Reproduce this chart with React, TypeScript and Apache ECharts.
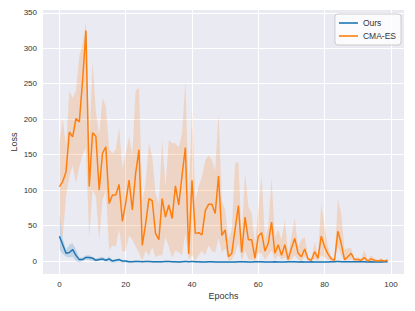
import React, { useEffect, useRef } from "react";
import * as echarts from "echarts";

const epochs = Array.from({ length: 100 }, (_, i) => i);

const oursMean = [
  35, 23, 11, 12, 16, 8, 2, 2, 5, 5, 4, 1, 2, 3, 1, 3, 0, 1, 2, 0,
  0, -1, -1, -0.5, -0.5, -1, -0.5, -0.5, -1, -1, -1, -1, -0.5, -0.5, -1, -1, -1.5, -1, -0.5, -1,
  -0.5, -1, -1, -1.5, -1.5, -1, -1, -1.5, -1.5, -1.5, -1.5, -1.5, -1.5, -1.5, -1, -1, -1, -1.5, -1.5, -1,
  -1, -1, -1.5, -1.5, -1.5, -1, -1.5, -1.5, -1.5, -1, -1, -1, -1.5, -1, -1.5, -1.5, -1, -1.5, -1.5, -1.5,
  -1.5, -1.5, -1, -1, -0.5, -1, -1, -1, -1, -1, -1, -1, -1, -1.5, -1, -1.5, -1.5, -1.5, -1, -1,
];
const oursUpper = [
  65, 32, 16, 23, 25, 16, 5, 5, 8, 8, 6, 4, 5, 6, 3, 6, 2, 2, 4, 1,
  1, 0.5, 0.5, 1, 0.5, 0, 0.5, 0.5, 0, 0, 0, 0, 0.5, 0.5, 0, 0, -0.5, 0, 0.5, 0,
  0.5, 0, 0, -0.5, -0.5, 0, 0, -0.5, -0.5, -0.5, -0.5, -0.5, -0.5, -0.5, 0, 0, 0, -0.5, -0.5, 0,
  0, 0, -0.5, -0.5, -0.5, 0, -0.5, -0.5, -0.5, 0, 0, 0, -0.5, 0, -0.5, -0.5, 0, -0.5, -0.5, -0.5,
  -0.5, -0.5, 0, 0, 0.5, 0, 0, 0, 0, 0, 0, 0, 0, -0.5, 0, -0.5, -0.5, -0.5, 0, 0,
];
const oursLower = [
  16, 10, 6, 5, 6, 0, -2, 0, 2, 1, 0, -0.5, 0, 0, -1, -1, -2, -2, -1, -2,
  -2, -2, -2, -1.5, -1.5, -2, -1.5, -1.5, -2, -2, -2, -2, -1.5, -1.5, -2, -2, -2.5, -2, -1.5, -2,
  -1.5, -2, -2, -2.5, -2.5, -2, -2, -2.5, -2.5, -2.5, -2.5, -2.5, -2.5, -2.5, -2, -2, -2, -2.5, -2.5, -2,
  -2, -2, -2.5, -2.5, -2.5, -2, -2.5, -2.5, -2.5, -2, -2, -2, -2.5, -2, -2.5, -2.5, -2, -2.5, -2.5, -2.5,
  -2.5, -2.5, -2, -2, -1.5, -2, -2, -2, -2, -2, -2, -2, -2, -2.5, -2, -2.5, -2.5, -2.5, -2, -2,
];

const cmaMean = [
  105, 112, 126, 182, 175, 201, 196, 255, 325, 105, 181, 176, 100, 152, 161, 81, 93, 93, 108, 56,
  82, 114, 72, 124, 157, 22, 52, 88, 85, 39, 30, 88, 62, 79, 60, 106, 79, 121, 160, 10,
  114, 39, 40, 37, 71, 80, 80, 67, 120, 36, 44, 6, 11, 45, 78, 12, 62, 30, 30, 4,
  35, 40, 14, 25, 55, 11, 23, 8, 23, 2, 18, 32, 11, 6, 17, 3, 1, 13, 4, 35,
  20, 10, 3, 1, 42, 25, 2, 6, 11, 2, 2, 1, 5, 0, 3, 1, 0, 1, 0, 1,
];
const cmaUpper = [
  168, 201, 160, 240, 230, 240, 289, 305, 338, 160, 281, 210, 178, 230, 218, 158, 152, 157, 188, 132,
  152, 176, 150, 240, 245, 83, 110, 166, 147, 95, 81, 171, 105, 171, 166, 166, 160, 180, 255, 92,
  215, 86, 105, 119, 142, 149, 142, 128, 208, 85, 72, 30, 44, 138, 140, 34, 124, 77, 67, 23,
  72, 121, 30, 48, 117, 34, 44, 30, 58, 11, 34, 60, 20, 30, 34, 6, 3, 27, 8, 81,
  48, 20, 6, 3, 87, 67, 16, 18, 18, 3, 6, 3, 16, 1, 8, 4, 1, 4, 1, 4,
];
const cmaLower = [
  60, 34, 91, 119, 135, 110, 133, 150, 160, 32, 100, 91, 30, 86, 100, 16, 22, 20, 44, 13,
  14, 36, 30, 20, 12, 0, 15, 7, 20, 5, 8, 8, 34, 20, 5, 15, 12, 8, 39, 2,
  8, 0, 8, 14, 8, 22, 14, 12, 32, 12, 18, 0, 2, 11, 25, 0, 15, 2, 2, 0,
  11, 11, 2, 8, 15, 2, 8, 2, 5, 0, 2, 8, 2, 0, 6, 0, 0, 3, 0, 8,
  5, 2, 0, 0, 20, 8, 0, 1, 3, 0, 0, 0, 1, -1, 0, 0, -1, 0, -1, -1,
];

const seriesNames = ["Ours", "CMA-ES"];
const FONT = "'Liberation Sans', Arial, 'DejaVu Sans', sans-serif";
const TEXT = "#333333";

export default function App() {
  const ref = useRef<HTMLDivElement>(null);
  useEffect(() => {
    const chart = echarts.init(ref.current as HTMLDivElement, null, { renderer: "svg" });

    const band = (name: string, lower: number[], upper: number[], color: string) => ({
      type: "custom",
      name,
      silent: true,
      z: 1,
      clip: true,
      data: epochs.map((e, i) => [e, lower[i], upper[i]]),
      encode: { x: 0, y: [1, 2] },
      renderItem: (params: any, api: any) => {
        if (params.dataIndex !== 0) return null;
        const top = epochs.map((e, i) => api.coord([e, upper[i]]));
        const bottom = epochs.map((e, i) => api.coord([e, lower[i]])).reverse();
        return {
          type: "polygon",
          shape: { points: top.concat(bottom) },
          style: { fill: color, stroke: null },
        };
      },
    });

    const line = (name: string, vals: number[], color: string) => ({
      type: "line",
      name,
      z: 3,
      symbol: "none",
      showSymbol: false,
      data: epochs.map((e, i) => [e, vals[i]]),
      lineStyle: { color, width: 1.5 },
      itemStyle: { color },
    });

    chart.setOption({
      animation: false,
      textStyle: { fontFamily: FONT },
      grid: {
        left: 43,
        right: 11,
        top: 10,
        bottom: 37,
        containLabel: false,
        outerBoundsMode: "none",
        show: true,
        backgroundColor: "#EAEAF2",
        borderWidth: 0,
      },
      legend: {
        data: seriesNames,
        orient: "vertical",
        right: 14,
        top: 14,
        icon: "rect",
        itemWidth: 19,
        itemHeight: 1.6,
        itemGap: 3,
        padding: [4, 5, 4, 4],
        backgroundColor: "rgba(255,255,255,0.8)",
        borderColor: "#cccccc",
        borderWidth: 1,
        borderRadius: 3,
        textStyle: { fontSize: 8.5, color: TEXT, fontFamily: FONT, lineHeight: 10 },
      },
      xAxis: {
        type: "value",
        min: -4.95,
        max: 103.95,
        splitNumber: 5,
        name: "Epochs",
        nameLocation: "middle",
        nameGap: 17,
        nameMoveOverlap: false,
        nameTextStyle: { fontSize: 9, color: TEXT, fontFamily: FONT },
        axisLine: { show: false },
        axisTick: { show: false },
        axisLabel: {
          fontSize: 8,
          color: TEXT,
          margin: 6,
          fontFamily: FONT,
          showMinLabel: false,
          showMaxLabel: false,
          formatter: (v: number) => (Math.abs(v % 20) < 1e-6 ? String(Math.round(v)) : ""),
        },
        splitLine: { show: true, showMinLine: false, showMaxLine: false, lineStyle: { color: "#ffffff", width: 1 } },
      },
      yAxis: {
        type: "value",
        min: -18.3,
        max: 354,
        splitNumber: 8,
        name: "Loss",
        nameLocation: "middle",
        nameGap: 25,
        nameMoveOverlap: false,
        nameTextStyle: { fontSize: 9, color: TEXT, fontFamily: FONT },
        axisLine: { show: false },
        axisTick: { show: false },
        axisLabel: {
          fontSize: 8,
          color: TEXT,
          margin: 6,
          fontFamily: FONT,
          showMinLabel: false,
          showMaxLabel: false,
          formatter: (v: number) => (Math.abs(v % 50) < 1e-6 ? String(Math.round(v)) : ""),
        },
        splitLine: { show: true, showMinLine: false, showMaxLine: false, lineStyle: { color: "#ffffff", width: 1 } },
      },
      series: [
        band("Ours band", oursLower, oursUpper, "rgba(31,119,180,0.2)"),
        band("CMA-ES band", cmaLower, cmaUpper, "rgba(255,127,14,0.2)"),
        line(seriesNames[0], oursMean, "#1f77b4"),
        line(seriesNames[1], cmaMean, "#ff7f0e"),
      ],
    });
    return () => chart.dispose();
  }, []);
  return (
    <div
      ref={ref}
      style={{ position: "absolute", left: 0, top: 0, width: 415, height: 311 }}
    />
  );
}
